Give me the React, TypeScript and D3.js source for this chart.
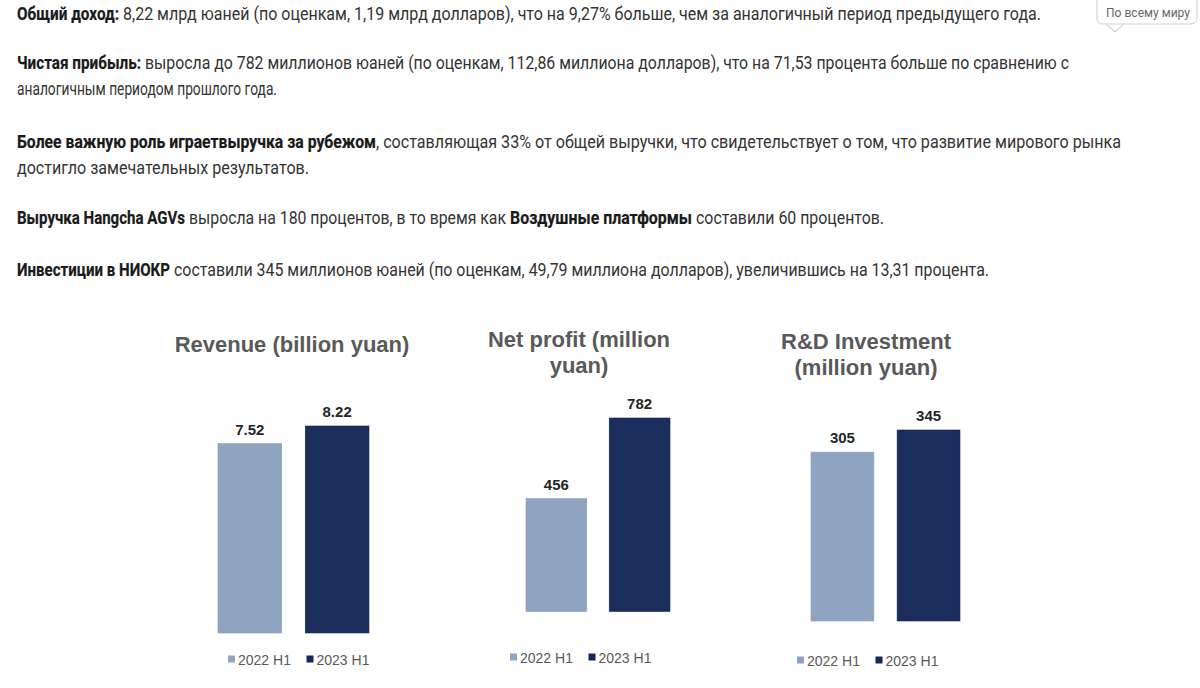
import React from "react";
import * as d3 from "d3";

const periods = ["2022 H1", "2023 H1"];
const revenue = [7.52, 8.22];
const revenueLabels = ["7.52", "8.22"];
const netProfit = [456, 782];
const netProfitLabels = ["456", "782"];
const rd = [305, 345];
const rdLabels = ["305", "345"];
const titles = [["Revenue (billion yuan)"], ["Net profit (million", "yuan)"], ["R&D Investment", "(million yuan)"]];

const paragraphLines = [
  ["Общий доход:", "8,22 млрд юаней (по оценкам, 1,19 млрд долларов), что на 9,27% больше, чем за аналогичный период предыдущего года."],
  ["Чистая прибыль:", "выросла до 782 миллионов юаней (по оценкам, 112,86 миллиона долларов), что на 71,53 процента больше по сравнению с"],
  ["", "аналогичным периодом прошлого года."],
  ["Более важную роль играетвыручка за рубежом", ", составляющая 33% от общей выручки, что свидетельствует о том, что развитие мирового рынка"],
  ["", "достигло замечательных результатов."],
  ["Выручка Hangcha AGVs", "выросла на 180 процентов, в то время как", "Воздушные платформы", "составили 60 процентов."],
  ["Инвестиции в НИОКР", "составили 345 миллионов юаней (по оценкам, 49,79 миллиона долларов), увеличившись на 13,31 процента."],
];
const tooltipText = "По всему миру";

// layout, kept apart from the content
const lineY = [20, 69, 95, 148, 174, 224, 276];
const lineSpans = [
  [[17, 119], [123, 1041]],
  [[17, 141], [145, 1069]],
  [[0, 0], [17, 277]],
  [[17, 376], [376, 1121]],
  [[0, 0], [17, 309]],
  [[17, 185], [189, 506], [510, 692], [696, 884]],
  [[17, 170], [174, 989]],
];
const charts = [
  { vals: revenue, labs: revenueLabels, title: titles[0], base: 633, top: 426, x: [218, 369], cx: 292, ty: 352, lx: 228, ly: 665 },
  { vals: netProfit, labs: netProfitLabels, title: titles[1], base: 611.5, top: 418, x: [526, 670], cx: 579, ty: 347, lx: 510, ly: 663 },
  { vals: rd, labs: rdLabels, title: titles[2], base: 621, top: 430, x: [811, 960], cx: 866, ty: 349, lx: 797, ly: 666 },
];
const colors = ["#8ea4c1", "#1a2d5c"];
const strokes = ["#88a0c0", "#14265a"];
const ARIAL = "'Liberation Sans', Arial, sans-serif";

function Chart({ c }: { c: (typeof charts)[number] }) {
  const y = d3.scaleLinear().domain([0, c.vals[1]]).range([c.base, c.top]);
  const x = d3.scaleBand().domain(periods).range(c.x as [number, number]).paddingInner(0.27);
  return (
    <g>
      {c.title.map((t, i) => (
        <text key={t} x={c.cx} y={c.ty + i * 26} textAnchor="middle" fontFamily={ARIAL} fontWeight="700" fontSize={22} fill="#595959">{t}</text>
      ))}
      {periods.map((p, i) => (
        <g key={p}>
          <rect x={x(p)} y={y(c.vals[i])} width={x.bandwidth()} height={c.base - y(c.vals[i])} fill={colors[i]} stroke={strokes[i]} strokeWidth={0.6} />
          <text x={x(p)! + x.bandwidth() / 2} y={y(c.vals[i]) - 9} textAnchor="middle" fontFamily={ARIAL} fontWeight="700" fontSize={15} fill="#262626">{c.labs[i]}</text>
          <rect x={c.lx + i * 78.5} y={c.ly - 9.5} width={7} height={7} fill={i === 0 ? "#8ea4c1" : "#14265a"} />
          <text x={c.lx + 10 + i * 78.5} y={c.ly} fontFamily={ARIAL} fontSize={14} fill="#595959">{p}</text>
        </g>
      ))}
    </g>
  );
}

export default function App() {
  return (
    <svg width={1200} height={688} style={{ position: "absolute", left: 0, top: 0, display: "block", background: "#fff" }}>
      {paragraphLines.map((line, i) =>
        line.map((s, j) => {
          if (!s) return null;
          const [a, b] = lineSpans[i][j];
          return (
            <text key={`${i}-${j}`} x={a} y={lineY[i] + 0} fontFamily="Roboto, sans-serif" fontSize={17.5} fontWeight={j % 2 === 0 ? 700 : 400} fill={j % 2 === 0 ? "#1a1a1a" : "#333"} stroke={j % 2 === 0 ? "#1a1a1a" : "none"} strokeWidth={j % 2 === 0 ? 0.2 : 0} textLength={b - a} lengthAdjust="spacingAndGlyphs">{s}</text>
          );
        })
      )}
      <path d="M1097 -3V18Q1097 24 1103 24H1106L1114 32L1122 24H1191Q1197 24 1197 18V-3" fill="#fff" stroke="none" />
      <path d="M1097 -3V18Q1097 24 1103 24H1190Q1197 24 1197 18V-3" fill="#fff" stroke="#cfcfcf" strokeWidth={1} />
      <path d="M1107 25L1115 32L1123 25" fill="none" stroke="#bdbdbd" strokeWidth={1} />
      <text x={1106} y={17} fontFamily="Roboto, sans-serif" fontSize={13.5} fill="#666" textLength={84} lengthAdjust="spacingAndGlyphs">{tooltipText}</text>
      {charts.map((c, i) => <Chart key={i} c={c} />)}
    </svg>
  );
}
